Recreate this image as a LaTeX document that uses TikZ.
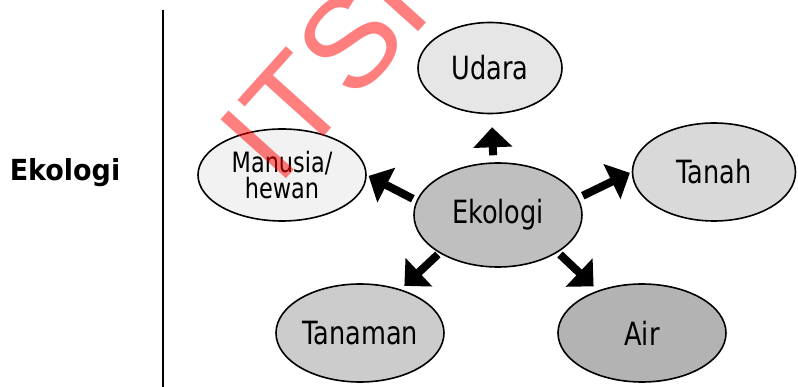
\documentclass[tikz,border=0pt]{standalone}
\usepackage{fontspec}
\setmainfont{DejaVu Sans}[FakeStretch=0.8]
\newfontfamily\judulfont{DejaVu Sans}[FakeStretch=0.93]
\newfontfamily\wmfont{Liberation Sans}
\usepackage{tikz}
\usetikzlibrary{shapes.geometric, arrows.meta, positioning}
\definecolor{abuEko}{HTML}{BFBFBF}
\definecolor{abuUdara}{HTML}{E6E6E6}
\definecolor{abuManusia}{HTML}{F2F2F2}
\definecolor{abuTanah}{HTML}{D9D9D9}
\definecolor{abuTanaman}{HTML}{CCCCCC}
\definecolor{abuAir}{HTML}{B3B3B3}
\tikzstyle{topik} = [ellipse, draw=black, line width=1.6pt, inner sep=0pt, text centered, font=\fontsize{32}{38}\selectfont]
\tikzstyle{arrow} = [line width=8pt, -{Triangle[width=38pt,length=20pt]}]

\begin{document}
\begin{tikzpicture}[x=1pt, y=1pt, node distance=150pt]
\path[use as bounding box, clip] (0,0) rectangle (798,-387);

\node (judul) [font=\judulfont\bfseries\fontsize{29}{34}\selectfont] at (65,-173) {Ekologi};
\draw [line width=2pt] (163,-10) -- (163,-387);

\node (eko) [topik, fill=abuEko, minimum width=168pt, minimum height=104pt] at (498,-215) {Ekologi};
\node (udara) [topik, fill=abuUdara, minimum width=144pt, minimum height=91pt, above of=eko, xshift=-8pt, yshift=-3pt] {Udara};
\node (manusia) [topik, fill=abuManusia, minimum width=168pt, minimum height=92pt, left of=eko, xshift=-66pt, yshift=40pt, align=center, font=\fontsize{28}{26}\selectfont] {Manusia/\\hewan};
\node (tanah) [topik, fill=abuTanah, minimum width=163pt, minimum height=98pt, right of=eko, xshift=66pt, yshift=43pt] {Tanah};
\node (tanaman) [topik, fill=abuTanaman, minimum width=168pt, minimum height=98pt, below of=eko, xshift=-138pt, yshift=32pt] {\makebox[100pt]{Tanaman}};
\node (air) [topik, fill=abuAir, minimum width=168pt, minimum height=98pt, below of=eko, xshift=144pt, yshift=32pt] {Air};

\draw [arrow, shorten <=7pt, shorten >=13pt] (eko.95) -- (udara.-88);
\draw [arrow, shorten <=4pt, shorten >=2pt] (eko.170) -- (manusia.east);
\draw [arrow, shorten <=5pt, shorten >=2pt] (eko.12) -- (tanah.west);
\draw [arrow, shorten <=2pt, shorten >=5pt] (eko.213) -- (tanaman.47);
\draw [arrow, shorten <=3pt, shorten >=6pt] (eko.-32) -- (air.136);

\node (tanda) [font=\wmfont\fontsize{128}{128}\selectfont, text=red, text opacity=0.5, rotate=48, anchor=base west, inner sep=0pt] at (278,-188) {ITSP};

\end{tikzpicture}
\end{document}
